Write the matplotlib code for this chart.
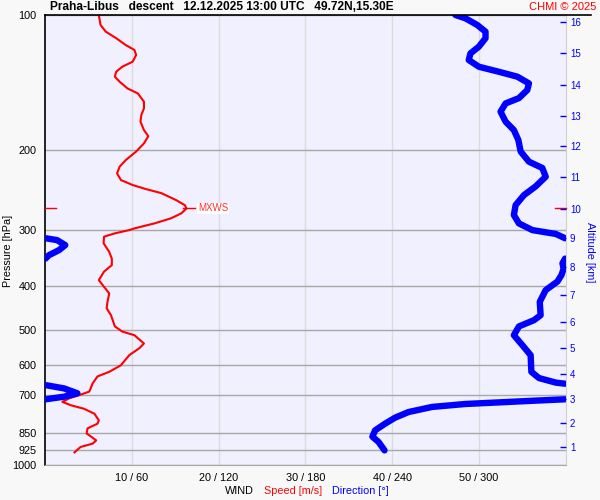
import matplotlib
matplotlib.use('Agg')
import matplotlib.pyplot as plt
import matplotlib.transforms as mtransforms
from matplotlib.lines import Line2D
from matplotlib.ticker import NullLocator
import numpy as np

plt.rcParams['font.family'] = ['Liberation Sans', 'DejaVu Sans']

# wind speed profile: pressure [hPa] / speed [m/s]
speed_pres = [100.0, 105.2, 108.9, 112.6, 116.6, 119.6, 122.7, 127.0, 130.3, 133.7,
              137.1, 140.7, 145.6, 149.4, 155.8, 161.2, 166.8, 172.6, 180.2, 185.9,
              192.9, 201.1, 210.1, 217.3, 224.9, 232.7, 238.7, 243.6, 248.8, 257.8,
              264.5, 269.1, 275.9, 283.1, 290.5, 298.0, 300.6, 305.8, 310.9, 321.6,
              336.0, 348.0, 359.6, 371.8, 388.3, 401.8, 415.6, 433.9, 448.3, 464.6,
              492.1, 505.2, 514.7, 537.0, 549.5, 570.2, 600.2, 620.8, 635.5, 658.1,
              686.8, 700.0, 710.8, 724.0, 736.8, 750.0, 769.4, 795.6, 809.3, 829.2,
              851.0, 881.5, 896.3, 911.9, 937.4]
speed_ms = [6.2, 6.4, 7.0, 8.2, 9.3, 10.3, 10.5, 10.1, 8.9, 8.2,
            8.05, 8.6, 9.5, 10.7, 11.4, 11.4, 11.1, 11.0, 11.4, 11.9,
            11.4, 10.5, 9.3, 8.6, 8.3, 8.75, 10.1, 11.6, 13.4, 15.1,
            16.1, 16.3, 15.7, 14.5, 12.6, 10.3, 9.7, 8.0, 6.8, 6.75,
            7.4, 7.7, 7.7, 6.8, 6.2, 6.8, 7.4, 7.2, 7.1, 7.6,
            8.05, 8.9, 10.3, 11.4, 10.9, 9.7, 8.75, 7.4, 6.05, 5.5,
            5.1, 3.9, 2.8, 2.0, 3.0, 4.5, 5.7, 6.2, 6.05, 4.9,
            4.8, 5.9, 5.5, 4.1, 3.4]

# wind direction profile: pressure [hPa] / direction [deg]
dir_pres = [100.0, 101.7, 105.2, 108.9, 112.6, 117.6, 121.7, 125.9, 130.3, 133.7,
            137.1, 141.9, 146.8, 153.0, 157.2, 164.0, 172.6, 180.2, 189.6, 201.1,
            211.8, 218.8, 228.8, 240.3, 251.3, 264.5, 278.3, 290.5, 300.6, 306.6,
            313.4,
            313.4, 316.4, 324.6, 333.0, 341.7, 347.8,
            347.8, 356.3, 366.1, 378.5, 391.2, 408.7, 433.9, 464.6, 476.6, 492.1,
            514.7, 541.8, 570.2, 620.8, 641.0, 656.0, 659.8,
            665.0, 675.8, 692.9, 705.0, 714.4,
            714.4, 719.9, 725.9, 731.8, 743.0, 762.6, 784.6, 809.3, 837.5, 864.9,
            888.3, 927.9]
dir_deg = [283.7, 290.6, 298.7, 304.5, 304.5, 299.9, 294.1, 292.9, 299.9, 313.7,
           326.5, 334.5, 333.4, 327.6, 318.4, 314.9, 318.4, 324.1, 327.2, 328.8,
           334.5, 343.8, 346.1, 339.2, 331.1, 325.3, 324.1, 327.6, 336.9, 353.1,
           359.5,
           0.5, 8.3, 14.0, 9.7, 2.8, 0.3,
           359.5, 357.7, 358.5, 357.0, 354.2, 346.1, 342.0, 342.6, 338.0, 327.6,
           324.1, 330.0, 335.7, 336.2, 341.5, 353.1, 359.5,
           1.0, 13.2, 22.4, 13.2, 0.5,
           359.5, 336.9, 313.7, 290.6, 267.5, 251.3, 242.1, 235.1, 228.2, 226.3,
           230.5, 234.7]

pres_ticks = [100, 200, 300, 400, 500, 600, 700, 850, 925, 1000]
speed_ticks = [10, 20, 30, 40, 50]
speed_labels = ['10 / 60', '20 / 120', '30 / 180', '40 / 240', '50 / 300']

# altitude scale of this sounding (km -> hPa)
alt_km = [1, 2, 3, 4, 5, 6, 7, 8, 9, 10, 11, 12, 13, 14, 15, 16]
alt_pres = [912.0, 806.6, 713.5, 627.9, 549.5, 481.2, 419.0, 363.1, 313.0, 269.8,
            229.1, 195.4, 167.7, 143.0, 121.5, 103.8]


def split_wraps(pres, deg):
    segs = []
    start = 0
    for i in range(1, len(deg)):
        if abs(deg[i] - deg[i - 1]) > 180:
            segs.append((pres[start:i], deg[start:i]))
            start = i
    segs.append((pres[start:], deg[start:]))
    return segs


fig = plt.figure(figsize=(6, 5), dpi=100, facecolor='#f8f8f8')
ax = fig.add_axes([0.075, 0.07, 0.868, 0.9])
ax.set_facecolor('#f0f0ff')

ax.set_yscale('log')
ax.set_ylim(1000, 100)
ax.set_xlim(0, 60)
ax.yaxis.set_minor_locator(NullLocator())
ax.set_yticks(pres_ticks, [str(p) for p in pres_ticks])
ax.set_xticks(speed_ticks, speed_labels)
ax.tick_params(axis='both', length=0, labelsize=7.8)
ax.tick_params(axis='y', pad=6)
ax.tick_params(axis='x', pad=6)
ax.yaxis.grid(True, color='#a8a8a8', lw=1.0)
ax.xaxis.grid(True, color='#dcdcdc', lw=1.0)
ax.set_axisbelow(True)

ax.spines['top'].set_visible(False)
ax.spines['left'].set_color('black')
ax.spines['left'].set_linewidth(1.2)
ax.spines['bottom'].set_color('#a8a8a8')
ax.spines['right'].set_color('#d0d0d0')

ax.plot(speed_ms, speed_pres, color='red', lw=1.5, solid_joinstyle='round', zorder=3)
for p, d in split_wraps(dir_pres, dir_deg):
    ax.plot(np.array(d) / 6.0, p, color='blue', lw=4.6, solid_capstyle='round',
            solid_joinstyle='round', zorder=4)

# max wind marker
imax = int(np.argmax(speed_ms))
pm, sm = speed_pres[imax], speed_ms[imax]
ax.plot([sm - 0.4, sm + 1.0], [pm, pm], color='red', lw=1.0, zorder=5)
ax.text(sm + 1.3, pm, 'MXWS', color='#ff3030', fontsize=7, va='center', ha='left',
        bbox=dict(facecolor='white', edgecolor='none', pad=0.5), zorder=5)
trans = mtransforms.blended_transform_factory(ax.transAxes, ax.transData)
ax.plot([0, 0.021], [pm, pm], color='red', lw=1.0, transform=trans, clip_on=False, zorder=5)
ax.plot([0.979, 1.0], [pm, pm], color='red', lw=1.0, transform=trans, clip_on=False, zorder=5)

# altitude axis
ax2 = ax.twinx()
ax2.set_yscale('log')
ax2.set_ylim(1000, 100)
ax2.yaxis.set_minor_locator(NullLocator())
ax2.set_yticks(alt_pres, [str(a) for a in alt_km])
ax2.tick_params(axis='y', direction='in', length=4.3, width=1.0, color='blue',
                labelcolor='blue', labelsize=7, pad=3)
ax2.yaxis.get_major_ticks()[alt_km.index(10)].tick2line.set_color('red')
for s in ax2.spines.values():
    s.set_visible(False)

# header
fig.add_artist(Line2D([0.075, 0.985], [0.97, 0.97], color='black', lw=1.2))
fig.text(50 / 600, 0.985, 'Praha-Libus   descent   12.12.2025 13:00 UTC   49.72N,15.30E',
         fontsize=8.6, fontweight='bold', ha='left', va='center')
fig.text(596 / 600, 0.985, 'CHMI \u00a9 2025', color='red', fontsize=8, ha='right', va='center')

# axis titles
fig.text(8 / 600, 1 - 251 / 500, 'Pressure [hPa]', rotation=90, fontsize=7.8,
         ha='center', va='center')
fig.text(590 / 600, 1 - 252 / 500, 'Altitude [km]', rotation=270, fontsize=7.8,
         color='blue', ha='center', va='center')
fig.text(225 / 600, 1 - 491 / 500, 'WIND', fontsize=7.8, ha='left', va='center')
fig.text(264 / 600, 1 - 491 / 500, 'Speed [m/s]', fontsize=7.8, color='red',
         ha='left', va='center')
fig.text(332 / 600, 1 - 491 / 500, 'Direction [\u00b0]', fontsize=7.8, color='blue',
         ha='left', va='center')

fig.savefig('out.png', dpi=100, facecolor=fig.get_facecolor())
